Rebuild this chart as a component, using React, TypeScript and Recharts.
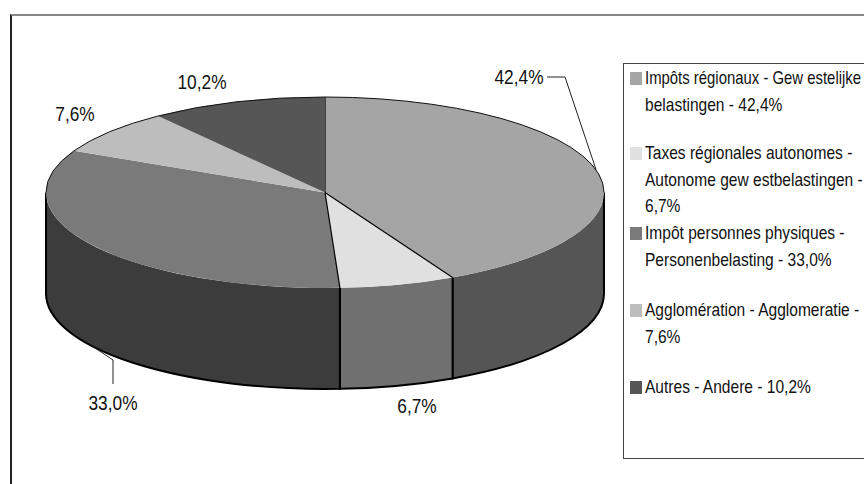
import { Legend, Pie, PieChart } from "recharts";

const CATEGORIES = [
  "Impôts régionaux - Gewestelijke belastingen",
  "Taxes régionales autonomes - Autonome gewestbelastingen",
  "Impôt personnes physiques - Personenbelasting",
  "Agglomération - Agglomeratie",
  "Autres - Andere",
];
const VALUES = [42.4, 6.7, 33.0, 7.6, 10.2];
const VALUE_LABELS = ["42,4%", "6,7%", "33,0%", "7,6%", "10,2%"];
const TOP_COLORS = ["#a5a5a5", "#e0e0e0", "#7a7a7a", "#bdbdbd", "#565656"];
const WALL_COLORS = ["#555555", "#707070", "#3c3c3c", "#5f5f5f", "#2b2b2b"];
const LEGEND_LINES = [
  ["Impôts régionaux - Gew estelijke", "belastingen - 42,4%"],
  ["Taxes régionales autonomes -", "Autonome gew estbelastingen -", "6,7%"],
  ["Impôt personnes physiques -", "Personenbelasting - 33,0%"],
  ["Agglomération - Agglomeratie -", "7,6%"],
  ["Autres - Andere - 10,2%"],
];

// layout
const CX = 325;
const CY = 192.5;
const RX = 279;
const TILT = 95.5 / 279;
const DEPTH = 101;
const LABEL_POS = [
  { x: 519, y: 84 },
  { x: 417, y: 413 },
  { x: 113, y: 410 },
  { x: 75, y: 121 },
  { x: 202, y: 89 },
];
const LEGEND_ROWS = [78, 153, 233, 310, 387];

const rows = CATEGORIES.map((name, i) => ({ name, value: VALUES[i] }));

const RAD = Math.PI / 180;
const px = (cx: number, r: number, a: number) => cx + r * Math.cos(a * RAD);
const py = (cy: number, r: number, a: number) => cy - r * TILT * Math.sin(a * RAD);

function arcPath(cx: number, cy: number, r: number, from: number, to: number, dy = 0, sweep = 1) {
  const large = Math.abs(from - to) > 180 ? 1 : 0;
  return `A${r} ${r * TILT} 0 ${large} ${sweep} ${px(cx, r, to)} ${py(cy, r, to) + dy}`;
}

function WallShape(props: any) {
  const { cx, cy, outerRadius: r, startAngle, endAngle, index } = props;
  const hi = Math.min(startAngle, 0);
  const lo = Math.max(endAngle, -180);
  if (hi <= lo) return null;
  const x1 = px(cx, r, hi);
  const y1 = py(cy, r, hi);
  const x2 = px(cx, r, lo);
  const y2 = py(cy, r, lo);
  const fillPath = `M${x1} ${y1}${arcPath(cx, cy, r, hi, lo)}L${x2} ${y2 + DEPTH}${arcPath(cx, cy, r, lo, hi, DEPTH, 0)}Z`;
  const edgePath = `M${x1} ${y1}L${x1} ${y1 + DEPTH}${arcPath(cx, cy, r, hi, lo, DEPTH)}L${x2} ${y2}`;
  return (
    <g>
      <path d={fillPath} fill={WALL_COLORS[index]} stroke="none" />
      <path d={edgePath} fill="none" stroke="#000" strokeWidth={2} />
    </g>
  );
}

function TopShape(props: any) {
  const { cx, cy, outerRadius: r, startAngle, endAngle, index } = props;
  const x1 = px(cx, r, startAngle);
  const y1 = py(cy, r, startAngle);
  const d = `M${cx} ${cy}L${x1} ${y1}${arcPath(cx, cy, r, startAngle, endAngle)}Z`;
  // the back of the rim has a thin dark line, the front has none
  let rim = "";
  if (startAngle > 0) {
    const to = Math.max(endAngle, 0);
    rim = `M${x1} ${y1}${arcPath(cx, cy, r, startAngle, to)}`;
  } else if (endAngle < -180) {
    const from = Math.min(startAngle, -180);
    rim = `M${px(cx, r, from)} ${py(cy, r, from)}${arcPath(cx, cy, r, from, endAngle)}`;
  }
  return (
    <g>
      <path d={d} fill={TOP_COLORS[index]} stroke="none" />
      {rim && <path d={rim} fill="none" stroke="#111" strokeWidth={1} />}
      {index < 3 && <line x1={cx} y1={cy} x2={x1} y2={y1} stroke="#000" strokeWidth={1.2} />}
    </g>
  );
}

function renderLabel(props: any) {
  const { cx, cy, outerRadius: r, midAngle, index } = props;
  const pos = LABEL_POS[index];
  const ax = px(cx, r, midAngle);
  const ay = py(cy, r, midAngle);
  let leader = null;
  if (index === 0) {
    leader = <polyline points={`547,77 565,77 ${ax},${ay}`} fill="none" stroke="#222" strokeWidth={1} />;
  } else if (index === 2) {
    leader = <polyline points={`${ax},${ay + DEPTH} 113,360 113,384`} fill="none" stroke="#222" strokeWidth={1} />;
  }
  return (
    <g key={index}>
      {leader}
      <text
        transform={`translate(${pos.x} ${pos.y}) scale(0.865 1)`}
        textAnchor="middle"
        fontFamily="Liberation Sans"
        fontSize={20}
        fill="#111"
      >
        {VALUE_LABELS[index]}
      </text>
    </g>
  );
}

function LegendBox() {
  return (
    <div
      style={{
        position: "relative",
        width: 260,
        height: 396,
        boxSizing: "border-box",
        border: "1px solid #444",
        background: "#fff",
        fontFamily: "Liberation Sans",
        fontSize: 18.5,
        color: "#111",
      }}
    >
      {LEGEND_LINES.map((lines, i) => {
        const top = LEGEND_ROWS[i] - 64;
        return (
          <div key={i}>
            <div style={{ position: "absolute", left: 6, top: top - 6, width: 12, height: 13, background: TOP_COLORS[i] }} />
            {lines.map((line, j) => (
              <div
                key={j}
                style={{
                  position: "absolute",
                  left: 21,
                  top: top - 13 + j * 26.5,
                  lineHeight: "26.5px",
                  whiteSpace: "nowrap",
                  // first line just fits up to the picture's right edge
                  transform: i === 0 && j === 0 ? "scaleX(0.805)" : "scaleX(0.84)",
                  transformOrigin: "left center",
                }}
              >
                {line}
              </div>
            ))}
          </div>
        );
      })}
    </div>
  );
}

export default function App() {
  return (
    <div style={{ position: "absolute", left: 0, top: 0, width: 864, height: 484, overflow: "hidden", background: "#fff" }}>
      <div
        style={{
          position: "absolute",
          left: 10,
          top: 14,
          width: 900,
          height: 520,
          borderLeft: "2px solid #222",
          borderTop: "2px solid #888",
        }}
      />
      <PieChart width={864} height={484} margin={{ top: 0, right: 0, bottom: 0, left: 0 }} style={{ position: "absolute", left: 0, top: 0 }}>
        <Pie
          data={rows}
          dataKey="value"
          cx={CX}
          cy={CY}
          innerRadius={0}
          outerRadius={RX}
          startAngle={90}
          endAngle={-270}
          stroke="none"
          shape={WallShape}
          isAnimationActive={false}
          legendType="none"
        />
        <Pie
          data={rows}
          dataKey="value"
          cx={CX}
          cy={CY}
          innerRadius={0}
          outerRadius={RX}
          startAngle={90}
          endAngle={-270}
          stroke="none"
          shape={TopShape}
          label={renderLabel}
          labelLine={false}
          isAnimationActive={false}
        />
        <Legend
          content={<LegendBox />}
          wrapperStyle={{ position: "absolute", left: 623, top: 63, width: 260, height: 396 }}
        />
      </PieChart>
    </div>
  );
}
